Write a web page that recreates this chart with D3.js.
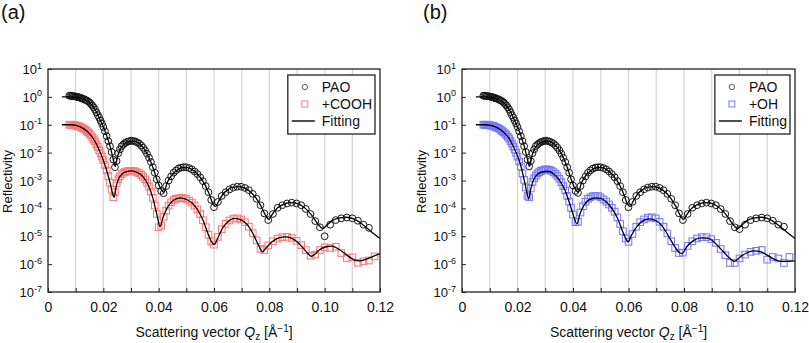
<!DOCTYPE html>
<html><head><meta charset="utf-8">
<script src="https://cdn.jsdelivr.net/npm/d3@7"></script>
<style>
body{margin:0;background:#fff}
svg{display:block}
text{font-family:"Liberation Sans",Arial,Helvetica,sans-serif;fill:#111}
</style>
</head><body>
<svg id="c" width="809" height="343"></svg>
<script>
// ---------- data ----------
const qData = [
0.0077,0.0081,0.0085,0.0089,0.0093,0.0097,0.0101,0.0105,0.0109,0.0113,
0.0117,0.0121,0.0125,0.013,0.0135,0.014,0.0145,0.015,0.0155,0.016,
0.0165,0.017,0.0175,0.018,0.0185,0.019,0.0195,0.02,0.0206,0.0212,
0.0218,0.0224,0.023,0.0236,0.0242,0.0248,0.0254,0.026,0.0266,0.0272,
0.0278,0.0284,0.029,0.0296,0.0302,0.0309,0.0316,0.0323,0.033,0.0337,
0.0344,0.0351,0.0358,0.0365,0.0372,0.0379,0.0386,0.0393,0.04,0.0409,
0.0418,0.0427,0.0436,0.0445,0.0454,0.0463,0.0472,0.0481,0.049,0.0499,
0.051,0.052,0.053,0.054,0.055,0.056,0.057,0.058,0.059,0.06,
0.0614,0.0628,0.0642,0.0656,0.067,0.0684,0.0698,0.0712,0.0726,0.074,
0.0754,0.0768,0.0782,0.0796,0.0813,0.083,0.0847,0.0864,0.0881,0.0898,
0.0915,0.0932,0.0949,0.0966,0.0983,0.1,0.102,0.104,0.106,0.108,
0.11,0.112,0.114,0.116,0.118];

const paoDataA = [
1.10,1.10,1.07,1.07,1.05,1.05,1.02,1.00,0.98,0.95,
0.93,0.89,0.87,0.83,0.78,0.74,0.69,0.63,0.56,0.49,
0.42,0.35,0.28,0.22,0.18,0.14,0.11,8.3e-2,5.8e-2,3.9e-2,
2.6e-2,1.7e-2,1.05e-2,5.6e-3,3.0e-3,5.0e-3,9.5e-3,1.3e-2,1.7e-2,1.95e-2,
2.2e-2,2.4e-2,2.5e-2,2.6e-2,2.7e-2,2.6e-2,2.5e-2,2.3e-2,2.1e-2,1.8e-2,
1.5e-2,1.2e-2,9.1e-3,6.6e-3,4.6e-3,3.0e-3,1.9e-3,1.1e-3,6.6e-4,4.2e-4,
3.5e-4,6.3e-4,1.0e-3,1.4e-3,1.9e-3,2.3e-3,2.7e-3,2.9e-3,3.0e-3,3.0e-3,
2.8e-3,2.5e-3,2.1e-3,1.7e-3,1.3e-3,9.5e-4,6.3e-4,3.8e-4,2.0e-4,1.1e-4,
1.7e-4,2.8e-4,3.8e-4,4.8e-4,5.6e-4,6.0e-4,6.0e-4,5.4e-4,4.5e-4,3.3e-4,
2.2e-4,1.3e-4,6.6e-5,3.8e-5,6.3e-5,1.05e-4,1.3e-4,1.5e-4,1.6e-4,1.5e-4,
1.3e-4,9.5e-5,6.3e-5,3.5e-5,2.1e-5,1.0e-5,2.6e-5,3.8e-5,4.4e-5,4.7e-5,
4.4e-5,3.6e-5,2.6e-5,2.0e-5,null];

const paoDataB = [
1.10,1.10,1.07,1.07,1.05,1.05,1.02,1.00,0.98,0.95,
0.93,0.89,0.87,0.83,0.78,0.74,0.69,0.63,0.56,0.49,
0.42,0.35,0.28,0.22,0.18,0.14,0.11,8.3e-2,5.8e-2,3.9e-2,
2.6e-2,1.7e-2,1.05e-2,5.6e-3,3.2e-3,5.0e-3,9.5e-3,1.3e-2,1.7e-2,1.95e-2,
2.2e-2,2.4e-2,2.5e-2,2.6e-2,2.7e-2,2.6e-2,2.5e-2,2.3e-2,2.1e-2,1.8e-2,
1.5e-2,1.2e-2,9.1e-3,6.6e-3,4.6e-3,3.0e-3,1.9e-3,1.1e-3,6.6e-4,4.2e-4,
3.6e-4,6.3e-4,1.0e-3,1.4e-3,1.9e-3,2.3e-3,2.7e-3,2.9e-3,3.0e-3,3.0e-3,
2.8e-3,2.5e-3,2.1e-3,1.7e-3,1.3e-3,9.5e-4,6.3e-4,3.8e-4,2.0e-4,1.1e-4,
1.7e-4,2.8e-4,3.8e-4,4.8e-4,5.6e-4,6.0e-4,6.0e-4,5.4e-4,4.5e-4,3.3e-4,
2.2e-4,1.3e-4,6.6e-5,3.8e-5,6.3e-5,1.05e-4,1.3e-4,1.5e-4,1.6e-4,1.5e-4,
1.3e-4,9.5e-5,6.3e-5,3.5e-5,2.1e-5,1.8e-5,2.6e-5,3.8e-5,4.4e-5,4.7e-5,
4.4e-5,3.6e-5,2.6e-5,2.2e-5,null];

const coohData = [
0.10,0.10,0.10,9.8e-2,9.8e-2,9.5e-2,9.3e-2,9.1e-2,8.9e-2,8.7e-2,
8.3e-2,7.9e-2,7.6e-2,7.1e-2,6.6e-2,6.0e-2,5.4e-2,4.8e-2,4.2e-2,3.5e-2,
3.0e-2,2.5e-2,2.0e-2,1.6e-2,1.23e-2,9.5e-3,7.2e-3,5.4e-3,3.6e-3,2.3e-3,
1.45e-3,8.3e-4,4.7e-4,2.5e-4,3.8e-4,7.9e-4,1.12e-3,1.41e-3,1.7e-3,1.9e-3,
2.0e-3,2.1e-3,2.2e-3,2.2e-3,2.2e-3,2.2e-3,2.1e-3,1.95e-3,1.8e-3,1.6e-3,
1.35e-3,1.1e-3,8.3e-4,6.0e-4,4.0e-4,2.4e-4,1.26e-4,6.3e-5,2.1e-5,2.4e-5,
5.0e-5,8.3e-5,1.26e-4,1.66e-4,2.0e-4,2.2e-4,2.3e-4,2.4e-4,2.3e-4,2.2e-4,
1.9e-4,1.6e-4,1.26e-4,9.1e-5,6.3e-5,3.8e-5,2.1e-5,1.12e-5,6.6e-6,5.0e-6,
9.5e-6,1.8e-5,2.8e-5,3.7e-5,4.3e-5,4.4e-5,4.0e-5,3.2e-5,2.2e-5,1.3e-5,
7.1e-6,3.5e-6,3.2e-6,4.7e-6,6.6e-6,8.3e-6,9.3e-6,9.5e-6,8.7e-6,6.9e-6,
4.8e-6,3.2e-6,2.0e-6,2.2e-6,3.2e-6,4.0e-6,3.8e-6,4.2e-6,2.5e-6,1.66e-6,
1.74e-6,1.12e-6,1.26e-6,1.35e-6,1.9e-6];

const ohData = [
0.10,0.10,0.10,0.10,9.8e-2,9.8e-2,9.5e-2,9.3e-2,9.1e-2,8.9e-2,
8.7e-2,8.3e-2,7.9e-2,7.6e-2,7.1e-2,6.5e-2,5.9e-2,5.4e-2,4.8e-2,4.3e-2,
3.7e-2,3.2e-2,2.6e-2,2.1e-2,1.66e-2,1.29e-2,9.8e-3,7.2e-3,4.8e-3,3.2e-3,
1.8e-3,1.05e-3,5.6e-4,2.8e-4,2.5e-4,5.2e-4,8.9e-4,1.2e-3,1.5e-3,1.8e-3,
2.0e-3,2.2e-3,2.3e-3,2.45e-3,2.5e-3,2.5e-3,2.4e-3,2.2e-3,2.0e-3,1.74e-3,
1.45e-3,1.15e-3,8.7e-4,6.3e-4,4.4e-4,2.8e-4,1.74e-4,1.05e-4,6.0e-5,3.2e-5,
3.3e-5,7.1e-5,1.2e-4,1.74e-4,2.2e-4,2.5e-4,2.75e-4,2.8e-4,2.75e-4,2.5e-4,
2.1e-4,1.74e-4,1.38e-4,1.05e-4,7.6e-5,4.8e-5,2.75e-5,1.5e-5,8.3e-6,6.3e-6,
1.2e-5,2.2e-5,3.2e-5,4.0e-5,4.6e-5,4.8e-5,4.4e-5,3.3e-5,2.2e-5,1.26e-5,
6.6e-6,3.8e-6,2.5e-6,2.6e-6,4.5e-6,6.6e-6,8.3e-6,9.3e-6,9.3e-6,7.9e-6,
5.8e-6,3.5e-6,2.1e-6,1.1e-6,1.1e-6,1.6e-6,2.2e-6,2.75e-6,3.0e-6,3.2e-6,
1.45e-6,1.8e-6,1.6e-6,1.1e-6,1.8e-6];

// fitted curves: [Q, R]
const fitPAO = [
[0.005,1.0],[0.008,1.0],[0.011,0.95],[0.013,0.83],[0.015,0.63],[0.017,0.35],[0.019,0.14],
[0.021,4.7e-2],[0.0225,1.6e-2],[0.0235,6.3e-3],[0.0243,3.2e-3],[0.0252,7.6e-3],[0.026,1.26e-2],
[0.0275,2.0e-2],[0.029,2.45e-2],[0.0305,2.6e-2],[0.032,2.4e-2],[0.0335,1.9e-2],[0.035,1.26e-2],
[0.0365,6.6e-3],[0.038,2.8e-3],[0.0395,1.0e-3],[0.0408,5.0e-4],[0.0419,3.8e-4],[0.043,7.9e-4],
[0.0445,1.45e-3],[0.0465,2.3e-3],[0.0485,2.9e-3],[0.05,2.95e-3],[0.052,2.5e-3],[0.054,1.7e-3],
[0.056,9.5e-4],[0.058,3.8e-4],[0.0597,1.4e-4],[0.0606,1.17e-4],[0.0615,1.66e-4],[0.063,3.0e-4],
[0.065,4.7e-4],[0.067,5.75e-4],[0.069,6.0e-4],[0.071,5.4e-4],[0.073,4.0e-4],[0.075,2.5e-4],
[0.077,1.2e-4],[0.0788,5.2e-5],[0.0798,4.0e-5],[0.081,6.0e-5],[0.083,1.05e-4],[0.0855,1.45e-4],
[0.088,1.6e-4],[0.0905,1.45e-4],[0.093,1.0e-4],[0.0955,5.4e-5],[0.0975,2.8e-5],[0.0993,1.9e-5],
[0.101,2.6e-5],[0.103,3.8e-5],[0.1055,4.6e-5],[0.108,4.8e-5],[0.1105,4.2e-5],[0.113,3.0e-5],
[0.1155,1.9e-5],[0.118,1.17e-5],[0.12,8.3e-6]];

const fitCOOH = [
[0.005,0.1],[0.008,0.1],[0.011,8.9e-2],[0.013,7.1e-2],[0.015,4.8e-2],[0.017,2.5e-2],[0.019,9.5e-3],
[0.021,2.7e-3],[0.0225,7.9e-4],[0.0233,3.5e-4],[0.0239,2.5e-4],[0.0247,6.3e-4],[0.0255,1.12e-3],
[0.027,1.8e-3],[0.0285,2.1e-3],[0.03,2.2e-3],[0.032,2.0e-3],[0.034,1.5e-3],[0.036,7.6e-4],
[0.038,2.2e-4],[0.0395,5.2e-5],[0.0405,2.2e-5],[0.0415,4.5e-5],[0.043,1.0e-4],[0.0455,2.0e-4],
[0.048,2.4e-4],[0.05,2.1e-4],[0.052,1.6e-4],[0.054,9.1e-5],[0.056,3.8e-5],[0.058,1.12e-5],
[0.0595,5.6e-6],[0.0602,5.0e-6],[0.061,7.1e-6],[0.063,1.9e-5],[0.065,3.3e-5],[0.0675,4.4e-5],
[0.07,3.8e-5],[0.072,2.6e-5],[0.074,1.3e-5],[0.076,5.0e-6],[0.0775,2.8e-6],[0.079,4.0e-6],
[0.081,6.3e-6],[0.0835,8.7e-6],[0.0858,9.5e-6],[0.088,8.5e-6],[0.09,6.3e-6],[0.092,4.0e-6],
[0.0938,2.5e-6],[0.0952,1.9e-6],[0.0965,2.3e-6],[0.098,3.2e-6],[0.1005,4.2e-6],[0.1025,4.4e-6],
[0.105,3.5e-6],[0.108,2.1e-6],[0.1105,1.45e-6],[0.1125,1.3e-6],[0.115,1.5e-6],[0.1175,1.9e-6],
[0.12,2.4e-6]];

const fitOH = [
[0.005,0.1],[0.008,0.1],[0.011,9.1e-2],[0.013,7.6e-2],[0.015,5.4e-2],[0.017,3.2e-2],[0.019,1.29e-2],
[0.021,4.0e-3],[0.0225,9.5e-4],[0.0233,4.0e-4],[0.024,2.2e-4],[0.0248,5.0e-4],[0.0256,9.5e-4],
[0.027,1.6e-3],[0.0285,2.0e-3],[0.03,2.1e-3],[0.0315,2.1e-3],[0.033,1.74e-3],[0.035,1.05e-3],
[0.037,4.8e-4],[0.039,1.3e-4],[0.0403,5.0e-5],[0.0414,2.8e-5],[0.0425,6.3e-5],[0.044,1.3e-4],
[0.046,2.1e-4],[0.048,2.4e-4],[0.05,2.3e-4],[0.052,1.7e-4],[0.054,1.0e-4],[0.056,4.5e-5],
[0.058,1.4e-5],[0.0592,7.6e-6],[0.0599,6.3e-6],[0.061,1.05e-5],[0.063,2.2e-5],[0.065,3.5e-5],
[0.0675,4.2e-5],[0.07,3.6e-5],[0.072,2.4e-5],[0.074,1.2e-5],[0.0765,4.5e-6],[0.0783,2.6e-6],
[0.0793,2.4e-6],[0.081,4.2e-6],[0.0835,7.1e-6],[0.086,8.7e-6],[0.0885,8.5e-6],[0.091,6.0e-6],
[0.0935,3.3e-6],[0.096,1.8e-6],[0.0982,1.26e-6],[0.1,1.74e-6],[0.1025,2.5e-6],[0.105,3.0e-6],
[0.1075,2.8e-6],[0.11,2.1e-6],[0.1125,1.5e-6],[0.115,1.26e-6],[0.1175,1.26e-6],[0.12,1.3e-6]];

const xTickValues = [0,0.01,0.02,0.03,0.04,0.05,0.06,0.07,0.08,0.09,0.10,0.11,0.12];
const xTickLabels = ["0","","0.02","","0.04","","0.06","","0.08","","0.10","","0.12"];
const gridValues = [0.01,0.02,0.03,0.04,0.05,0.06,0.07,0.08,0.09,0.10,0.11];
const yTickValues = [10,1,0.1,1e-2,1e-3,1e-4,1e-5,1e-6,1e-7];
const yTickExponents = ["1","0","-1","-2","-3","-4","-5","-6","-7"];
const legendLabels = [["PAO","+COOH","Fitting"],["PAO","+OH","Fitting"]];
const panelTags = ["(a)","(b)"];

// ---------- drawing ----------
const svg = d3.select("#c");
const yTop = 69, yBot = 292;
const y = d3.scaleLog().domain([1e-7, 10]).range([yBot, yTop]);

const panels = [
  {tag:panelTags[0], tagX:1, x0:48, x1:380, pao:paoDataA, smp:coohData, fitSmp:fitCOOH, color:"#ff7878", legend:legendLabels[0]},
  {tag:panelTags[1], tagX:423, x0:462, x1:795, pao:paoDataB, smp:ohData, fitSmp:fitOH, color:"#7878ff", legend:legendLabels[1]}
];

panels.forEach((p, pi) => {
  const x = d3.scaleLinear().domain([0, 0.12]).range([p.x0, p.x1]);
  const g = svg.append("g");

  // vertical gridlines
  g.selectAll("line.grid").data(gridValues).join("line")
    .attr("x1", d => x(d)).attr("x2", d => x(d))
    .attr("y1", yTop).attr("y2", yBot)
    .attr("stroke", "#d4d4d4").attr("stroke-width", 1.2);

  // PAO circles
  const paoPts = qData.map((q, i) => [q, p.pao[i]]).filter(d => d[1] != null);
  g.append("g").selectAll("circle").data(paoPts).join("circle")
    .attr("cx", d => x(d[0])).attr("cy", d => y(d[1])).attr("r", 3.4)
    .attr("fill", "none").attr("stroke", "#151515").attr("stroke-width", 1.0);

  // sample squares
  const s = 6.6;
  const smpPts = qData.map((q, i) => [q, p.smp[i]]).filter(d => d[1] != null);
  g.append("g").selectAll("rect").data(smpPts).join("rect")
    .attr("x", d => x(d[0]) - s/2).attr("y", d => y(d[1]) - s/2)
    .attr("width", s).attr("height", s)
    .attr("fill", "none").attr("stroke", p.color).attr("stroke-width", 1.05);

  // fitting lines
  const line = d3.line().x(d => x(d[0])).y(d => y(d[1])).curve(d3.curveMonotoneX);
  [fitPAO, p.fitSmp].forEach(f => {
    g.append("path").datum(f).attr("d", line)
      .attr("fill", "none").attr("stroke", "#000").attr("stroke-width", 1.3);
  });

  // x axis ticks + labels
  const xa = d3.axisBottom(x).tickValues(xTickValues)
    .tickSizeInner(-4).tickSizeOuter(0).tickPadding(10.5)
    .tickFormat((d, i) => xTickLabels[i]);
  const gx = g.append("g").attr("transform", `translate(0,${yBot})`).call(xa);
  gx.select(".domain").remove();
  gx.selectAll(".tick line").attr("stroke", "#222").attr("stroke-width", 1);
  gx.selectAll(".tick text").attr("font-size", 14).attr("fill", "#111")
    .attr("font-family", '"Liberation Sans",Arial,sans-serif');

  // y axis ticks
  const ya = d3.axisLeft(y).tickValues(yTickValues)
    .tickSizeInner(-4).tickSizeOuter(0).tickFormat("");
  const gy = g.append("g").attr("transform", `translate(${p.x0},0)`).call(ya);
  gy.select(".domain").remove();
  gy.selectAll(".tick line").attr("stroke", "#222").attr("stroke-width", 1);

  // y tick labels 10^n
  yTickValues.forEach((v, i) => {
    const t = g.append("text").attr("x", p.x0 - 6).attr("y", y(v) + 5)
      .attr("text-anchor", "end").attr("font-size", 13);
    t.append("tspan").text("10");
    t.append("tspan").attr("font-size", 9).attr("dy", -5.5).text(yTickExponents[i]);
  });

  // frame
  g.append("rect").attr("x", p.x0).attr("y", yTop)
    .attr("width", p.x1 - p.x0).attr("height", yBot - yTop)
    .attr("fill", "none").attr("stroke", "#222").attr("stroke-width", 1.3);

  // axis titles
  const xt = g.append("text").attr("x", (p.x0 + p.x1) / 2).attr("y", 337)
    .attr("text-anchor", "middle").attr("font-size", 14);
  xt.append("tspan").text("Scattering vector ");
  xt.append("tspan").attr("font-style", "italic").text("Q");
  xt.append("tspan").attr("font-size", 10).attr("dy", 3).text("z");
  xt.append("tspan").attr("dy", -3).text(" [Å");
  xt.append("tspan").attr("font-size", 10).attr("dy", -5.5).text("\u22121");
  xt.append("tspan").attr("dy", 5.5).text("]");

  g.append("text")
    .attr("transform", `translate(${p.x0 - 36.5},181.5) rotate(-90)`)
    .attr("text-anchor", "middle").attr("font-size", 13).text("Reflectivity");

  // panel tag
  g.append("text").attr("x", p.tagX).attr("y", 19).attr("font-size", 20).text(p.tag);

  // legend
  const lg = g.append("g");
  const box = lg.append("rect").attr("y", 75).attr("height", 59)
    .attr("fill", "#fff").attr("stroke", "#222").attr("stroke-width", 1.3);
  const rows = [87, 104, 121];
  let maxW = 0;
  p.legend.forEach((lab, i) => {
    const t = lg.append("text").attr("x", 34).attr("y", rows[i] + 5)
      .attr("font-size", 14).text(lab);
    maxW = Math.max(maxW, t.node().getComputedTextLength());
  });
  lg.append("circle").attr("cx", 17).attr("cy", rows[0]).attr("r", 2.7)
    .attr("fill", "none").attr("stroke", "#444").attr("stroke-width", 0.9);
  lg.append("rect").attr("x", 17 - 3).attr("y", rows[1] - 3).attr("width", 6).attr("height", 6)
    .attr("fill", "none").attr("stroke", p.color).attr("stroke-width", 1);
  lg.append("line").attr("x1", 4).attr("x2", 27).attr("y1", rows[2]).attr("y2", rows[2])
    .attr("stroke", "#000").attr("stroke-width", 1.4);
  const w = 34 + maxW + 3;
  box.attr("x", 0).attr("width", w);
  lg.attr("transform", `translate(${p.x1 - 5 - w},0)`);
});
</script>
</body></html>
